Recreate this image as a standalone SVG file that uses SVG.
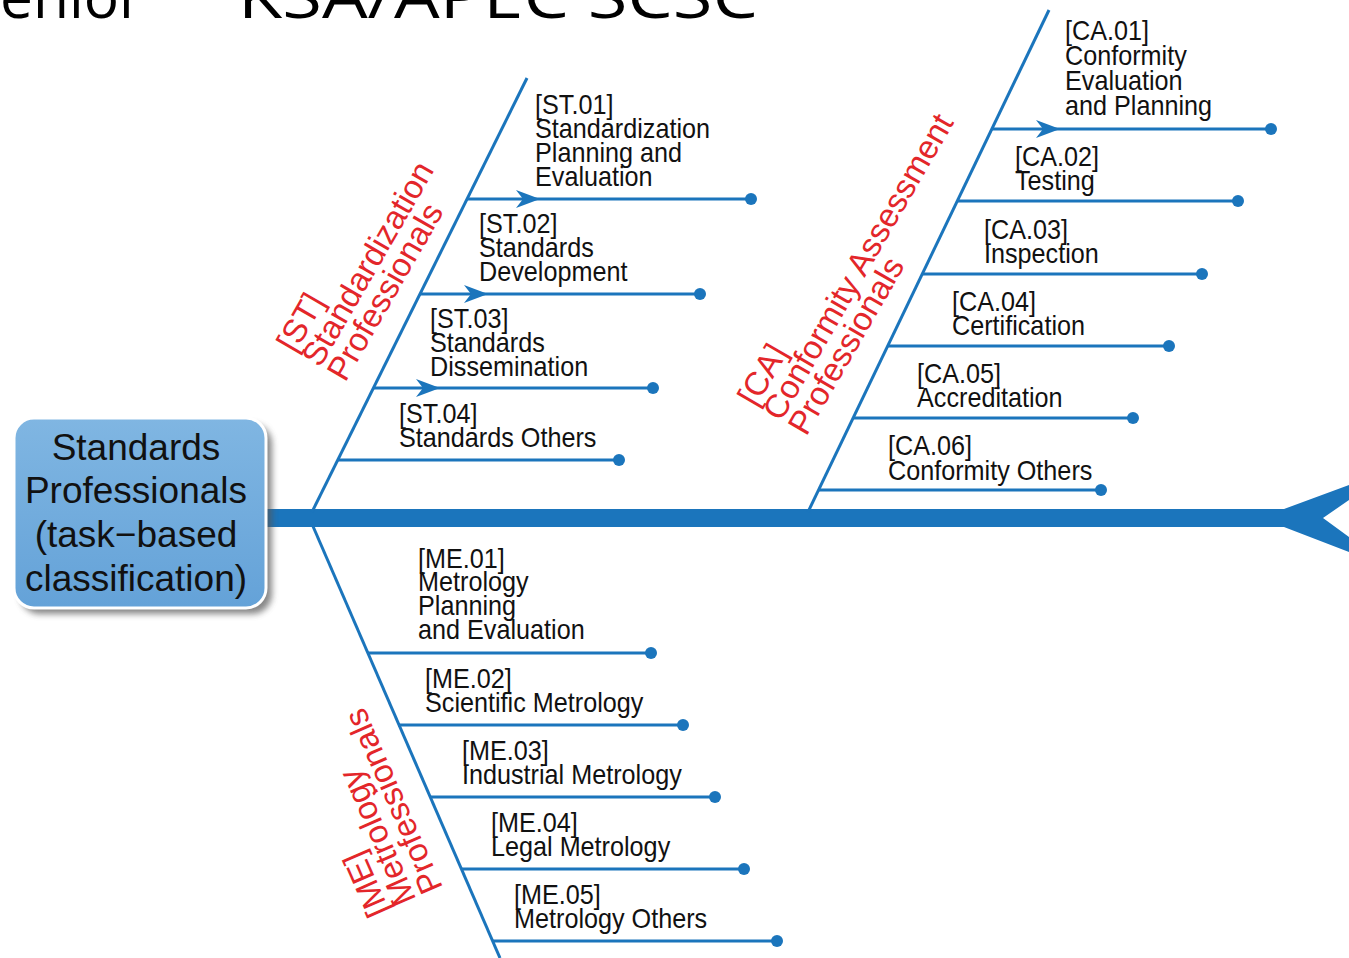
<svg xmlns="http://www.w3.org/2000/svg" width="1349" height="958" viewBox="0 0 1349 958">
<defs>
<style>
.t{font-family:"Liberation Sans",Arial,sans-serif;font-size:28px;fill:#111}
.r{font-family:"Liberation Sans",Arial,sans-serif;font-size:33px;fill:#e3262a}
.hd{font-family:"Open Sans","Liberation Sans",sans-serif;font-size:60px;fill:#000}
.bx{font-family:"Liberation Sans",Arial,sans-serif;font-size:37px;fill:#111;text-anchor:middle}
.ln{stroke:#1b75bc;stroke-width:3;fill:none}
.dot{fill:#1b75bc}
</style>
<linearGradient id="bg" x1="0" y1="0" x2="0" y2="1">
<stop offset="0" stop-color="#80b6e2"/>
<stop offset="1" stop-color="#64a2d8"/>
</linearGradient>
<filter id="sh" x="-10%" y="-10%" width="130%" height="130%">
<feGaussianBlur stdDeviation="3"/>
</filter>
<path id="ah" d="M0,0 L-24,-9 L-17,0 L-24,9 Z" fill="#1b75bc"/>
</defs>
<rect width="1349" height="958" fill="#fff"/>
<g id="header">
<text class="hd" x="0" y="18" textLength="143" lengthAdjust="spacingAndGlyphs">enior</text>
<text class="hd" x="238" y="18" textLength="520" lengthAdjust="spacingAndGlyphs">KSA/APEC SCSC</text>
</g>
<g id="connectors">
<rect x="266" y="509" width="1024" height="18" fill="#1b75bc"/>
<polygon points="1284,509 1349,485 1349,500 1323,518 1349,537 1349,552 1284,527" fill="#1b75bc"/>
<line class="ln" x1="312" y1="512" x2="527" y2="78"/>
<line class="ln" x1="312" y1="524" x2="500" y2="958"/>
<line class="ln" x1="808" y1="512" x2="1049" y2="10"/>
<line class="ln" x1="467" y1="199" x2="751" y2="199"/><circle class="dot" cx="751" cy="199" r="6"/>
<line class="ln" x1="420" y1="294" x2="700" y2="294"/><circle class="dot" cx="700" cy="294" r="6"/>
<line class="ln" x1="373" y1="388" x2="653" y2="388"/><circle class="dot" cx="653" cy="388" r="6"/>
<line class="ln" x1="337" y1="460" x2="619" y2="460"/><circle class="dot" cx="619" cy="460" r="6"/>
<use href="#ah" x="540" y="199"/>
<use href="#ah" x="488" y="294"/>
<use href="#ah" x="440" y="388"/>
<line class="ln" x1="992" y1="129" x2="1271" y2="129"/><circle class="dot" cx="1271" cy="129" r="6"/>
<line class="ln" x1="957" y1="201" x2="1238" y2="201"/><circle class="dot" cx="1238" cy="201" r="6"/>
<line class="ln" x1="922" y1="274" x2="1202" y2="274"/><circle class="dot" cx="1202" cy="274" r="6"/>
<line class="ln" x1="888" y1="346" x2="1169" y2="346"/><circle class="dot" cx="1169" cy="346" r="6"/>
<line class="ln" x1="853" y1="418" x2="1133" y2="418"/><circle class="dot" cx="1133" cy="418" r="6"/>
<line class="ln" x1="818" y1="490" x2="1101" y2="490"/><circle class="dot" cx="1101" cy="490" r="6"/>
<use href="#ah" x="1060" y="129"/>
<line class="ln" x1="368" y1="653" x2="651" y2="653"/><circle class="dot" cx="651" cy="653" r="6"/>
<line class="ln" x1="398" y1="725" x2="683" y2="725"/><circle class="dot" cx="683" cy="725" r="6"/>
<line class="ln" x1="430" y1="797" x2="715" y2="797"/><circle class="dot" cx="715" cy="797" r="6"/>
<line class="ln" x1="462" y1="869" x2="744" y2="869"/><circle class="dot" cx="744" cy="869" r="6"/>
<line class="ln" x1="493" y1="941" x2="777" y2="941"/><circle class="dot" cx="777" cy="941" r="6"/>
</g>
<g id="root">
<rect x="20" y="424" width="252" height="190" rx="20" fill="#555" opacity="0.7" filter="url(#sh)"/>
<rect x="14" y="418" width="252" height="190" rx="20" fill="url(#bg)" stroke="#fff" stroke-width="3"/>
<text class="bx" x="136" y="460">Standards</text>
<text class="bx" x="136" y="503">Professionals</text>
<text class="bx" x="136" y="547">(task−based</text>
<text class="bx" x="136" y="591">classification)</text>
</g>
<g id="cat-st"><g transform="translate(295,354) rotate(-60)"><text class="r" x="0" y="0">[ST]</text><text class="r" x="0" y="29">Standardization</text><text class="r" x="0" y="58">Professionals</text></g></g>
<g id="cat-ca"><g transform="translate(756,408) rotate(-60)"><text class="r" x="0" y="0">[CA]</text><text class="r" x="0" y="29">Conformity Assessment</text><text class="r" x="0" y="58">Professionals</text></g></g>
<g id="cat-me"><g transform="translate(390,911) rotate(-113.6)"><text class="r" x="0" y="0">[ME]</text><text class="r" x="0" y="29">Metrology</text><text class="r" x="0" y="58">Professionals</text></g></g>
<g id="st01" transform="translate(535,0) scale(0.9,1)"><text class="t" y="114">[ST.01]</text><text class="t" y="138">Standardization</text><text class="t" y="162">Planning and</text><text class="t" y="186">Evaluation</text></g>
<g id="st02" transform="translate(479,0) scale(0.9,1)"><text class="t" y="233">[ST.02]</text><text class="t" y="257">Standards</text><text class="t" y="281">Development</text></g>
<g id="st03" transform="translate(430,0) scale(0.9,1)"><text class="t" y="328">[ST.03]</text><text class="t" y="352">Standards</text><text class="t" y="376">Dissemination</text></g>
<g id="st04" transform="translate(399,0) scale(0.9,1)"><text class="t" y="423">[ST.04]</text><text class="t" y="447">Standards Others</text></g>
<g id="ca01" transform="translate(1065,0) scale(0.9,1)"><text class="t" y="40">[CA.01]</text><text class="t" y="65">Conformity</text><text class="t" y="90">Evaluation</text><text class="t" y="115">and Planning</text></g>
<g id="ca02" transform="translate(1015,0) scale(0.9,1)"><text class="t" y="166">[CA.02]</text><text class="t" y="190">Testing</text></g>
<g id="ca03" transform="translate(984,0) scale(0.9,1)"><text class="t" y="239">[CA.03]</text><text class="t" y="263">Inspection</text></g>
<g id="ca04" transform="translate(952,0) scale(0.9,1)"><text class="t" y="311">[CA.04]</text><text class="t" y="335">Certification</text></g>
<g id="ca05" transform="translate(917,0) scale(0.9,1)"><text class="t" y="383">[CA.05]</text><text class="t" y="407">Accreditation</text></g>
<g id="ca06" transform="translate(888,0) scale(0.9,1)"><text class="t" y="455">[CA.06]</text><text class="t" y="480">Conformity Others</text></g>
<g id="me01" transform="translate(418,0) scale(0.9,1)"><text class="t" y="568">[ME.01]</text><text class="t" y="591">Metrology</text><text class="t" y="615">Planning</text><text class="t" y="639">and Evaluation</text></g>
<g id="me02" transform="translate(425,0) scale(0.9,1)"><text class="t" y="688">[ME.02]</text><text class="t" y="712">Scientific Metrology</text></g>
<g id="me03" transform="translate(462,0) scale(0.9,1)"><text class="t" y="760">[ME.03]</text><text class="t" y="784">Industrial Metrology</text></g>
<g id="me04" transform="translate(491,0) scale(0.9,1)"><text class="t" y="832">[ME.04]</text><text class="t" y="856">Legal Metrology</text></g>
<g id="me05" transform="translate(514,0) scale(0.9,1)"><text class="t" y="904">[ME.05]</text><text class="t" y="928">Metrology Others</text></g>
</svg>
